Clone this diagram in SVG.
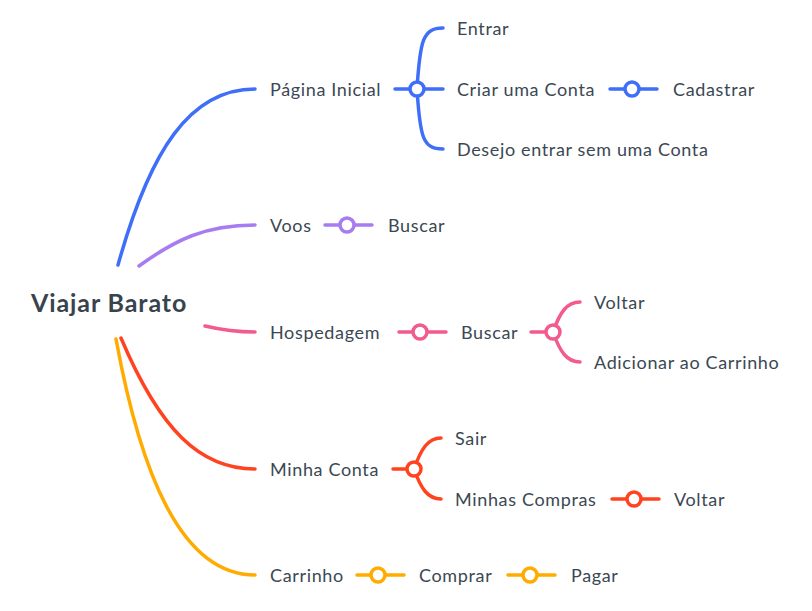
<svg xmlns="http://www.w3.org/2000/svg" width="812" height="611" viewBox="0 0 812 611">
<style>
text{font-family:Lato,"Open Sans","Liberation Sans",sans-serif;font-size:18px;letter-spacing:0.65px;fill:#3b4853;dominant-baseline:central}
.root{font-size:25px;font-weight:bold;letter-spacing:0.9px;fill:#38444d}
.c{fill:none;stroke-width:3.5;stroke-linecap:round}
.k{fill:#fff;stroke-width:3.5}
.b{stroke:#3f6ef8}.p{stroke:#a67cf0}.h{stroke:#f35a8e}.r{stroke:#ff4320}.o{stroke:#ffab00}
</style>
<rect width="812" height="611" fill="#fff"/>
<g id="connectors">
<path class="c b" d="M118,265 C150,150 190,89 255,89"/>
<path class="c p" d="M139,266 C175,240 205,225 255,225"/>
<path class="c h" d="M205,326 C222,330 238,332 255,332"/>
<path class="c r" d="M121,338 C160,430 200,469 255,469"/>
<path class="c o" d="M116,339 C140,470 180,575 255,575"/>
<path class="c b" d="M395,89 H443 M417,89 C420,40 423,28 443,28 M417,89 C420,138 423,149 443,149"/>
<circle class="k b" cx="417" cy="89" r="7"/>
<path class="c b" d="M610,89 H657"/><circle class="k b" cx="632" cy="89" r="7"/>
<path class="c p" d="M325,225 H372"/><circle class="k p" cx="347" cy="225" r="7"/>
<path class="c h" d="M399,332 H446"/><circle class="k h" cx="420" cy="332" r="7"/>
<path class="c h" d="M531,332 H553 M553,332 C560,312 567,302 580,302 M553,332 C560,352 567,362 580,362"/>
<circle class="k h" cx="553" cy="332" r="7"/>
<path class="c r" d="M393,469 H414 M414,469 C421,449 428,438 441,438 M414,469 C421,489 428,499 441,499"/>
<circle class="k r" cx="414" cy="469" r="7"/>
<path class="c r" d="M612,499 H659"/><circle class="k r" cx="634" cy="499" r="7"/>
<path class="c o" d="M357,575 H404"/><circle class="k o" cx="378" cy="575" r="7"/>
<path class="c o" d="M508,575 H555"/><circle class="k o" cx="530" cy="575" r="7"/>
</g>
<g id="n-root"><text class="root" x="31" y="302">Viajar Barato</text></g>
<g id="n-pagina"><text x="270" y="89">Página Inicial</text></g>
<g id="n-entrar"><text x="457" y="28">Entrar</text></g>
<g id="n-criar"><text x="457" y="89">Criar uma Conta</text></g>
<g id="n-cadastrar"><text x="673" y="89">Cadastrar</text></g>
<g id="n-desejo"><text x="457" y="149">Desejo entrar sem uma Conta</text></g>
<g id="n-voos"><text x="270" y="225">Voos</text></g>
<g id="n-voos-buscar"><text x="388" y="225">Buscar</text></g>
<g id="n-hosp"><text x="270" y="332">Hospedagem</text></g>
<g id="n-hosp-buscar"><text x="461" y="332">Buscar</text></g>
<g id="n-hosp-voltar"><text x="594" y="302">Voltar</text></g>
<g id="n-adicionar"><text x="594" y="362">Adicionar ao Carrinho</text></g>
<g id="n-conta"><text x="270" y="469">Minha Conta</text></g>
<g id="n-sair"><text x="455" y="438">Sair</text></g>
<g id="n-compras"><text x="455" y="499">Minhas Compras</text></g>
<g id="n-conta-voltar"><text x="674" y="499">Voltar</text></g>
<g id="n-carrinho"><text x="270" y="575">Carrinho</text></g>
<g id="n-comprar"><text x="419" y="575">Comprar</text></g>
<g id="n-pagar"><text x="571" y="575">Pagar</text></g>
</svg>
